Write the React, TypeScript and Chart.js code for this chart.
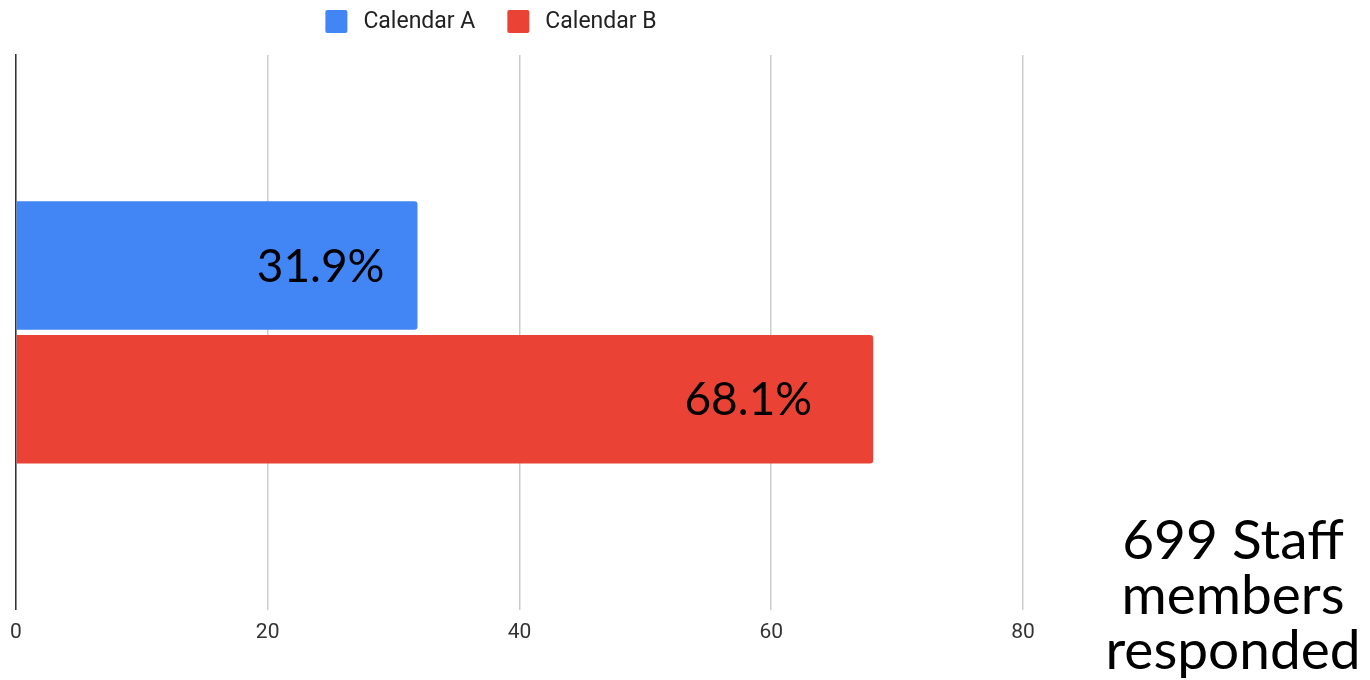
import React, { useEffect, useRef } from "react";
import { Chart, registerables } from "chart.js";

Chart.register(...registerables);

const categories = [""];
const seriesNames = ["Calendar A", "Calendar B"];
const calendarA = [31.9];
const calendarB = [68.1];
const seriesColors = ["#4285F4", "#EA4335"];
const xTickValues = [0, 20, 40, 60, 80];
const noteLines = ["699 Staff", "members", "responded"];
const labelInsets = [33, 61];

const UI_FONT = "Roboto, 'Liberation Sans', Arial, sans-serif";
const BIG_FONT = "Lato, 'Open Sans', sans-serif";

// Legend drawn from the chart's own datasets: box, gap, label, then item gap.
const topLegend = {
  id: "topLegend",
  afterDraw(chart: any) {
    const ctx = chart.ctx;
    const boxW = 22;
    const boxH = 23;
    const textGap = 16;
    const itemGap = 32;
    const centerX = 491;
    const boxTop = 10;
    ctx.save();
    ctx.font = `23px ${UI_FONT}`;
    const items = chart.data.datasets.map((ds: any) => ({
      text: ds.label,
      color: ds.backgroundColor,
      w: boxW + textGap + ctx.measureText(ds.label).width,
    }));
    const total = items.reduce((s: number, it: any) => s + it.w, 0) + itemGap * (items.length - 1);
    let x = centerX - total / 2;
    items.forEach((it: any) => {
      ctx.fillStyle = it.color;
      ctx.beginPath();
      (ctx as any).roundRect(x, boxTop, boxW, boxH, 2);
      ctx.fill();
      ctx.fillStyle = "#222222";
      ctx.textAlign = "left";
      ctx.textBaseline = "middle";
      ctx.fillText(it.text, x + boxW + textGap, boxTop + boxH / 2 + 1);
      x += it.w + itemGap;
    });
    ctx.restore();
  },
};

const barLabels = {
  id: "barLabels",
  afterDatasetsDraw(chart: any) {
    const ctx = chart.ctx;
    ctx.save();
    ctx.font = `46px ${BIG_FONT}`;
    ctx.fillStyle = "#000000";
    ctx.textAlign = "right";
    ctx.textBaseline = "alphabetic";
    chart.data.datasets.forEach((ds: any, i: number) => {
      const meta = chart.getDatasetMeta(i);
      meta.data.forEach((bar: any, j: number) => {
        const v = ds.data[j];
        ctx.fillText(v.toFixed(1) + "%", bar.x - labelInsets[i], bar.y + 16);
      });
    });
    ctx.restore();
  },
};

const sideNote = {
  id: "sideNote",
  afterDraw(chart: any) {
    const ctx = chart.ctx;
    ctx.save();
    ctx.font = `55px ${BIG_FONT}`;
    ctx.fillStyle = "#000000";
    ctx.textAlign = "center";
    ctx.textBaseline = "alphabetic";
    const cx = chart.chartArea.right + 210;
    noteLines.forEach((line, i) => {
      ctx.fillText(line, cx, chart.chartArea.bottom - 51 + i * 55);
    });
    ctx.restore();
  },
};

export default function App() {
  const ref = useRef<HTMLCanvasElement>(null);

  useEffect(() => {
    if (!ref.current) return;
    const chart = new Chart(ref.current, {
      type: "bar",
      data: {
        labels: categories,
        datasets: [
          {
            label: seriesNames[0],
            data: calendarA,
            backgroundColor: seriesColors[0],
            borderRadius: 3,
            categoryPercentage: 0.482,
            barPercentage: 0.962,
          },
          {
            label: seriesNames[1],
            data: calendarB,
            backgroundColor: seriesColors[1],
            borderRadius: 3,
            categoryPercentage: 0.482,
            barPercentage: 0.962,
          },
        ],
      },
      options: {
        indexAxis: "y",
        responsive: false,
        animation: false,
        devicePixelRatio: 1,
        layout: { padding: { left: 15, right: 347, top: 55, bottom: 25 } },
        plugins: {
          legend: { display: false },
          tooltip: { enabled: false },
        },
        scales: {
          x: {
            type: "linear",
            min: xTickValues[0],
            max: xTickValues[xTickValues.length - 1],
            afterBuildTicks: (scale: any) => {
              scale.ticks = xTickValues.map((v) => ({ value: v }));
            },
            grid: { color: "#cccccc", lineWidth: 1.5, drawTicks: false },
            border: { display: false },
            ticks: {
              padding: 10,
              color: "#333333",
              font: { family: UI_FONT, size: 21 },
            },
          },
          y: {
            grid: { display: false },
            border: { display: true, color: "#333333", width: 1.5 },
            ticks: { display: false },
            afterFit: (scale: any) => {
              scale.width = 0;
            },
          },
        },
      },
      plugins: [topLegend, barLabels, sideNote],
    });
    return () => chart.destroy();
  }, []);

  return (
    <div style={{ position: "absolute", left: 0, top: 0, width: 1370, height: 680, background: "#ffffff" }}>
      <canvas ref={ref} width={1370} height={680} />
    </div>
  );
}
